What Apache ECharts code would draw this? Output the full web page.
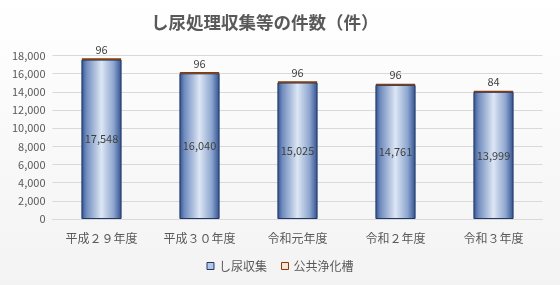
<!DOCTYPE html>
<html><head><meta charset="utf-8">
<script src="https://cdn.jsdelivr.net/npm/echarts@6/dist/echarts.min.js"></script>
<style>html,body{margin:0;padding:0;background:#fff}#c{width:560px;height:285px}</style>
</head><body><div id="c"></div>
<script>
const categories = ['平成２９年度','平成３０年度','令和元年度','令和２年度','令和３年度'];
const shinyo = [17548, 16040, 15025, 14761, 13999];
const jokaso = [96, 96, 96, 96, 84];
const yMax = 18000, yInterval = 2000;
const FONT = '"Noto Sans CJK JP", "Noto Sans", sans-serif';

const chart = echarts.init(document.getElementById('c'));
chart.setOption({
  animation: false,
  backgroundColor: new echarts.graphic.LinearGradient(0,0,0,1,[{offset:0,color:'#ffffff'},{offset:1,color:'#f3f3f3'}]),
  title: {
    text: 'し尿処理収集等の件数（件）', left: 146, top: 9,
    textStyle: {fontFamily: FONT, fontSize: 17.5, fontWeight: 'bold', color: '#595959'}
  },
  grid: {left: 52.5, right: 17.5, top: 55.5, bottom: 66},
  legend: {
    bottom: 8, left: 'center', icon: 'rect', itemWidth: 7, itemHeight: 7, itemGap: 14,
    textStyle: {fontFamily: FONT, fontSize: 12, color: '#595959'},
    data: [
      {name: 'し尿収集', itemStyle: {color: '#b4c7e7', borderColor: '#203864', borderWidth: 1}},
      {name: '公共浄化槽', itemStyle: {color: '#fbe5d6', borderColor: '#843c0c', borderWidth: 1}}
    ]
  },
  xAxis: {
    type: 'category', data: categories,
    axisLine: {lineStyle: {color: '#d9d9d9'}}, axisTick: {show: false},
    axisLabel: {fontFamily: FONT, fontSize: 12, color: '#595959', margin: 13}
  },
  yAxis: {
    type: 'value', min: 0, max: yMax, interval: yInterval,
    axisLine: {show: false}, axisTick: {show: false},
    splitLine: {lineStyle: {color: '#d9d9d9'}},
    axisLabel: {fontFamily: FONT, fontSize: 11, color: '#595959', margin: 7,
      formatter: v => v.toLocaleString('en-US')}
  },
  series: [
    {
      name: 'し尿収集', type: 'bar', stack: 'a', data: shinyo, barWidth: '41%',
      itemStyle: {
        color: new echarts.graphic.LinearGradient(0,0,1,0,[
          {offset:0,color:'#2f5090'},{offset:0.12,color:'#6f8bbd'},{offset:0.5,color:'#dce6f4'},
          {offset:0.8,color:'#8ea6cf'},{offset:1,color:'#2f5090'}]),
        borderColor: '#203864', borderWidth: 1
      },
      label: {show: true, position: 'inside', fontFamily: FONT, fontSize: 11, color: '#404040',
        formatter: p => p.value.toLocaleString('en-US')}
    },
    {
      name: '公共浄化槽', type: 'bar', stack: 'a', data: jokaso, barWidth: '41%',
      itemStyle: {color: '#c55a11', borderColor: '#843c0c', borderWidth: 1.6},
      label: {show: true, position: 'top', distance: 3, fontFamily: FONT, fontSize: 11, color: '#404040'}
    }
  ]
});
</script></body></html>
